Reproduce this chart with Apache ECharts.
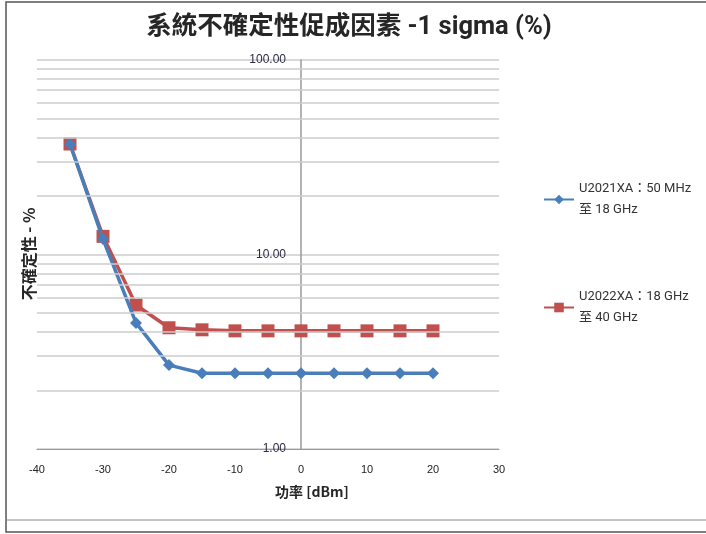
<!DOCTYPE html>
<html><head><meta charset="utf-8">
<script src="https://cdn.jsdelivr.net/npm/echarts@6/dist/echarts.min.js"></script>
<style>html,body{margin:0;padding:0;background:#fff}#c{width:706px;height:534px}</style>
</head><body><div id="c"></div>
<script>
const titleText = '系統不確定性促成因素 -1 sigma (%)';
const xName = '功率 [dBm]';
const yName = '不確定性 - %';
const powerDbm = [-35, -30, -25, -20, -15, -10, -5, 0, 5, 10, 15, 20];
const seriesNames = ['U2021XA：50 MHz\n至 18 GHz', 'U2022XA：18 GHz\n至 40 GHz'];
const u2021 = [37, 12, 4.45, 2.7, 2.45, 2.45, 2.45, 2.45, 2.45, 2.45, 2.45, 2.45];
const u2022 = [37, 12.4, 5.5, 4.2, 4.1, 4.05, 4.05, 4.05, 4.05, 4.05, 4.05, 4.05];
const xMin = -40, xMax = 30, xStep = 10;
const yMin = 1, yMax = 100;
const minorGrid = [2,3,4,5,6,7,8,9,20,30,40,50,60,70,80,90];

const chart = echarts.init(document.getElementById('c'), null, {renderer:'canvas'});
const latin = 'Roboto,"Noto Sans CJK TC",sans-serif';
const tick = '"Liberation Sans","Noto Sans CJK TC",sans-serif';
const gridColor = '#cdcdcd';
const gridLeft = 37, gridRight = 207;
const plotW = 706 - gridLeft - gridRight;
const zeroOffset = -plotW * (0 - xMin) / (xMax - xMin);
chart.setOption({
  animation: false,
  backgroundColor: '#fff',
  title: {
    text: titleText, left: 344, top: 10, textAlign: 'center',
    textStyle: {fontSize: 25.5, fontWeight: 'bold', color: '#262626', fontFamily: latin}
  },
  legend: {
    orient: 'vertical', left: 538, top: 163, padding: 5, itemWidth: 30, itemHeight: 12, itemGap: 45,
    data: seriesNames,
    textStyle: {fontSize: 13, color: '#333', fontFamily: latin, lineHeight: 21, padding: [21,0,0,0]}
  },
  grid: {left: gridLeft, right: gridRight, top: 60, bottom: 85, outerBoundsMode: 'none', containLabel: false},
  xAxis: {
    type: 'value', min: xMin, max: xMax, interval: xStep,
    axisLine: {onZero: false, lineStyle: {color: '#9a9a9a', width: 1}},
    axisTick: {show: false},
    axisLabel: {margin: 15, fontSize: 11, color: '#222', fontFamily: tick},
    splitLine: {show: false}
  },
  yAxis: {
    type: 'log', logBase: 10, min: yMin, max: yMax, position: 'left', offset: zeroOffset,
    axisLine: {show: true, onZero: false, lineStyle: {color: '#9a9a9a', width: 1.5}},
    axisTick: {show: false},
    axisLabel: {margin: 15, fontSize: 12, color: '#2a2a44', fontFamily: tick,
      formatter: v => v.toFixed(2)},
    splitLine: {show: true, lineStyle: {color: gridColor, width: 1.5}}
  },
  graphic: [
    {type: 'rect', silent: true, shape: {x: 6, y: 2, width: 720, height: 530},
     style: {fill: 'none', stroke: '#555', lineWidth: 1.5}},
    {type: 'line', silent: true, shape: {x1: 6, y1: 520, x2: 706, y2: 520},
     style: {stroke: '#888', lineWidth: 1}},
    {type: 'text', x: 312, y: 492, silent: true,
     style: {text: xName, textAlign: 'center', textVerticalAlign: 'middle',
       font: 'bold 14px "Noto Sans CJK TC","Liberation Sans",sans-serif', fill: '#262626'}},
    {type: 'text', x: 29, y: 254, rotation: Math.PI/2, silent: true,
     style: {text: yName, textAlign: 'center', textVerticalAlign: 'middle',
       font: 'bold 16px "Noto Sans CJK TC","Liberation Sans",sans-serif', fill: '#262626'}}
  ],
  series: [
    {name: 'minor', type: 'line', data: [], silent: true,
     markLine: {silent: true, symbol: 'none', label: {show: false},
       lineStyle: {color: gridColor, width: 1.5, type: 'solid'},
       data: minorGrid.map(v => ({yAxis: v}))}},
    {name: seriesNames[0], type: 'line', data: powerDbm.map((x,i)=>[x,u2021[i]]),
     symbol: 'diamond', symbolSize: 12, z: 4,
     lineStyle: {color: '#4a7ebb', width: 3.5}, itemStyle: {color: '#4a7ebb'}},
    {name: seriesNames[1], type: 'line', data: powerDbm.map((x,i)=>[x,u2022[i]]),
     symbol: 'rect', symbolSize: 13, z: 3,
     lineStyle: {color: '#c0504d', width: 3.5}, itemStyle: {color: '#c0504d'}}
  ]
});
</script></body></html>
